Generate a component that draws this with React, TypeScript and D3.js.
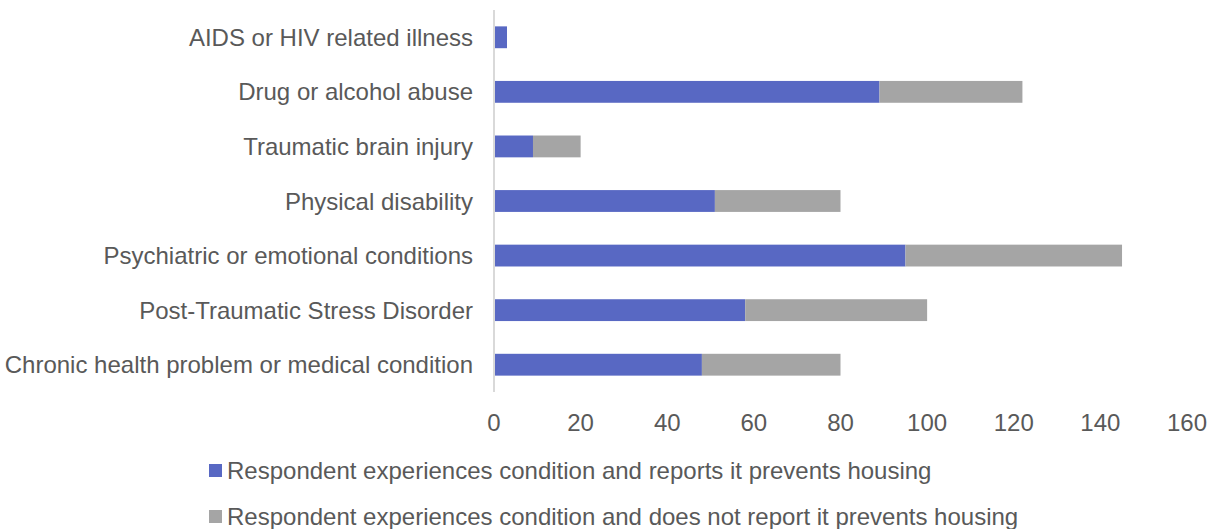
import React from "react";
import * as d3 from "d3";

const categories = [
  "AIDS or HIV related illness",
  "Drug or alcohol abuse",
  "Traumatic brain injury",
  "Physical disability",
  "Psychiatric or emotional conditions",
  "Post-Traumatic Stress Disorder",
  "Chronic health problem or medical condition",
];
const preventsHousing = [3, 89, 9, 51, 95, 58, 48];
const doesNotPrevent = [0, 33, 11, 29, 50, 42, 32];
const xTicks = [0, 20, 40, 60, 80, 100, 120, 140, 160];
const seriesNames = [
  "Respondent experiences condition and reports it prevents housing",
  "Respondent experiences condition and does not report it prevents housing",
];
const colors = ["#5868C3", "#A5A5A5"];

export default function App() {
  const W = 1211, H = 529;
  const x = d3.scaleLinear().domain([0, 160]).range([494, 1187]);
  const y = d3.scaleBand<string>().domain(categories).range([10, 392]).paddingInner(0.6).paddingOuter(0.3);
  const font = "'Liberation Sans', Arial, sans-serif";
  const textColor = "#595959";
  return (
    <svg width={W} height={H} style={{ position: "absolute", left: 0, top: 0, background: "#fff" }} fontFamily={font}>
      {categories.map((c, i) => {
        const y0 = y(c)!;
        const bw = y.bandwidth();
        return (
          <g key={c}>
            <text x={473} y={y0 + bw / 2} textAnchor="end" dominantBaseline="central" fontSize={24} fill={textColor}>{c}</text>
            <rect x={x(0)} y={y0} width={x(preventsHousing[i]) - x(0)} height={bw} fill={colors[0]} />
            {doesNotPrevent[i] > 0 && (
              <rect x={x(preventsHousing[i])} y={y0} width={x(preventsHousing[i] + doesNotPrevent[i]) - x(preventsHousing[i])} height={bw} fill={colors[1]} />
            )}
          </g>
        );
      })}
      <line x1={x(0)} x2={x(0)} y1={10} y2={392} stroke="#D9D9D9" strokeWidth={2} />
      {xTicks.map((t) => (
        <text key={t} x={x(t)} y={422} textAnchor="middle" dominantBaseline="central" fontSize={24} fill={textColor}>{t}</text>
      ))}
      {seriesNames.map((s, i) => (
        <g key={s}>
          <rect x={209} y={464 + i * 46} width={13} height={13} fill={colors[i]} />
          <text x={227} y={470 + i * 46} dominantBaseline="central" fontSize={24} fill={textColor}>{s}</text>
        </g>
      ))}
    </svg>
  );
}
